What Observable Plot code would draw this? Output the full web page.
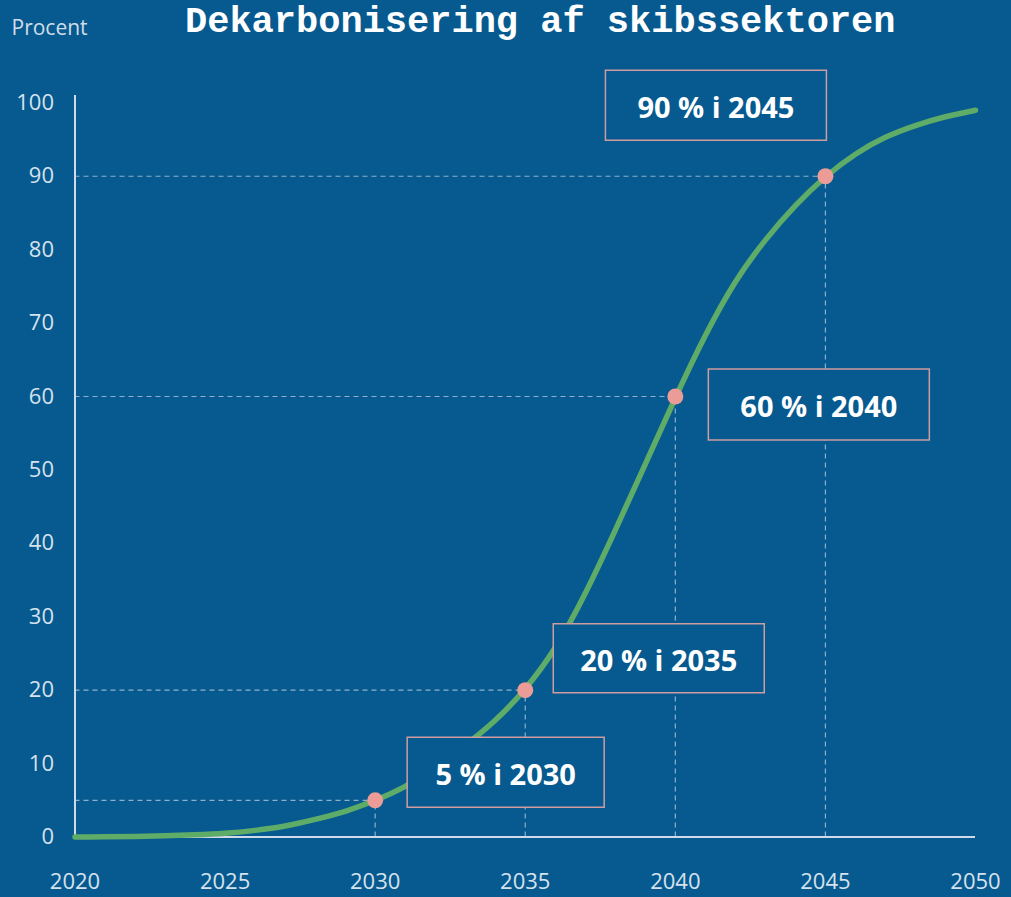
<!DOCTYPE html>
<html>
<head>
<meta charset="utf-8">
<script src="https://cdn.jsdelivr.net/npm/d3@7"></script>
<script src="https://cdn.jsdelivr.net/npm/@observablehq/plot@0.6"></script>
<style>
  html, body { margin: 0; padding: 0; background: #065a8f; }
  #wrap { position: relative; width: 1011px; height: 897px; overflow: hidden; background: #065a8f; }
  #title { position: absolute; left: 185px; top: 4px; white-space: nowrap;
    font-family: "Liberation Mono", "Courier New", monospace; font-weight: bold;
    font-size: 37px; line-height: 37px; color: #ffffff; z-index: 2; }
  #chart { position: absolute; left: 0; top: 0; }
</style>
</head>
<body>
<div id="wrap">
  <div id="title">Dekarbonisering af skibssektoren</div>
  <div id="chart"></div>
</div>
<script>
// ---- data ----
const years = [2020, 2021, 2022, 2023, 2024, 2025, 2026, 2027, 2028, 2029, 2030,
  2031, 2032, 2033, 2034, 2035, 2036, 2037, 2038, 2039, 2040,
  2041, 2042, 2043, 2044, 2045, 2046, 2047, 2048, 2049, 2050];
const shares = [0, 0.02, 0.08, 0.18, 0.3, 0.5, 0.9, 1.5, 2.4, 3.5, 5,
  6.9, 9.5, 12.5, 15.9, 20.2, 25.8, 33.2, 41.8, 50.8, 59.8,
  68.3, 75.6, 81.3, 86, 89.9, 93.0, 95.3, 96.9, 98.1, 99.0];
const milestoneYears = [2030, 2035, 2040, 2045];
const milestoneValues = [5, 20, 60, 90];
const milestoneLabels = ["5 % i 2030", "20 % i 2035", "60 % i 2040", "90 % i 2045"];
const xTicks = [2020, 2025, 2030, 2035, 2040, 2045, 2050];
const yTicks = [0, 10, 20, 30, 40, 50, 60, 70, 80, 90, 100];
const yLabel = "Procent";

// ---- styles (not data) ----
const bg = "#065a8f";
const tickColor = "#d6e2ee";
const axisColor = "#cfdbe8";
const dashColor = "#8fb0cc";
const green = "#5fac68";
const pink = "#eb9c97";
const boxBorder = "#cf9ca0";
const labelStyle = [
  {dx: 130.5, dy: -28, w: 197, h: 70},
  {dx: 133.5, dy: -32, w: 211, h: 69},
  {dx: 143.5, dy: 8, w: 221, h: 71},
  {dx: -109.5, dy: -71, w: 221, h: 70}
];

const series = years.map((year, i) => ({year, value: shares[i]}));
const milestones = milestoneYears.map((year, i) => ({year, value: milestoneValues[i], label: milestoneLabels[i]}));

function boxSymbol(w, h) {
  return {
    draw(ctx) {
      ctx.moveTo(-w / 2, -h / 2);
      ctx.lineTo(w / 2, -h / 2);
      ctx.lineTo(w / 2, h / 2);
      ctx.lineTo(-w / 2, h / 2);
      ctx.closePath();
    }
  };
}

const labelMarks = milestones.flatMap((m, i) => {
  const s = labelStyle[i];
  return [
    Plot.dot([m], {x: "year", y: "value", symbol: boxSymbol(s.w, s.h), r: 10,
      fill: bg, stroke: boxBorder, strokeWidth: 1.5, dx: s.dx, dy: s.dy}),
    Plot.text([m], {x: "year", y: "value", text: "label", dx: s.dx, dy: s.dy + 3.5,
      fill: "#ffffff", fontSize: 29, fontWeight: 700, fontFamily: "Open Sans",
      style: "letter-spacing: 0.6px"})
  ];
});

const plot = Plot.plot({
  width: 1011,
  height: 897,
  marginTop: 95,
  marginBottom: 60.5,
  marginLeft: 74.5,
  marginRight: 36,
  style: {background: "transparent", fontFamily: "Open Sans", fontSize: "22px", color: tickColor, overflow: "visible"},
  x: {domain: [years[0], years[years.length - 1]], ticks: xTicks, tickFormat: d => String(d), tickSize: 0, tickPadding: 36, label: null},
  y: {domain: [0, 101], ticks: yTicks, tickSize: 0, tickPadding: 21, label: null},
  marks: [
    Plot.ruleY(milestones, {y: "value", x1: years[0], x2: "year", stroke: dashColor, strokeWidth: 1.2, strokeDasharray: "5,4"}),
    Plot.ruleX(milestones, {x: "year", y1: 0, y2: "value", stroke: dashColor, strokeWidth: 1.2, strokeDasharray: "5,4"}),
    Plot.ruleY([0], {stroke: axisColor, strokeWidth: 2}),
    Plot.ruleX([years[0]], {stroke: axisColor, strokeWidth: 2}),
    Plot.line(series, {x: "year", y: "value", stroke: green, strokeWidth: 5.5, curve: "natural", strokeLinecap: "round"}),
    Plot.dot(milestones, {x: "year", y: "value", r: 8, fill: pink}),
    ...labelMarks,
    Plot.text([yLabel], {text: d => d, frameAnchor: "top-left", lineAnchor: "middle", textAnchor: "start",
      dx: -63.5, dy: -67, fontSize: 21, fill: "#d0dde9"})
  ]
});
document.getElementById("chart").appendChild(plot);
</script>
</body>
</html>
